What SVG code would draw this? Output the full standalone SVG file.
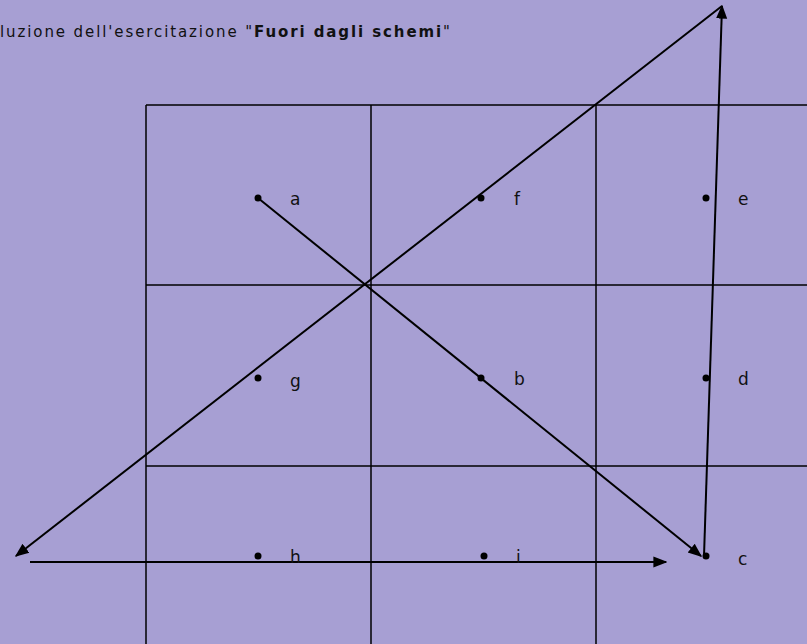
<svg xmlns="http://www.w3.org/2000/svg" width="807" height="644" viewBox="0 0 807 644">
<style>
.grid{stroke:#000;stroke-width:1.5;fill:none}
.arr{stroke:#000;stroke-width:2;fill:none}
.dot{fill:#000}
.lbl{font-family:"DejaVu Sans","Liberation Sans",sans-serif;font-size:17px;fill:#111}
.title{font-family:"DejaVu Sans","Liberation Sans",sans-serif;font-size:15px;fill:#111}
</style>
<defs>
<marker id="ahb" viewBox="0 0 10 10" refX="9" refY="5" markerWidth="14" markerHeight="14" markerUnits="userSpaceOnUse" orient="auto">
<path d="M0,1 L10,5 L0,9 z" fill="#000"/>
</marker>
</defs>
<rect width="807" height="644" fill="#a79fd3"/>
<text class="title" x="0" y="37" textLength="450" lengthAdjust="spacing">luzione dell'esercitazione "<tspan font-weight="bold">Fuori dagli schemi</tspan>"</text>
<g id="grid">
<line class="grid" x1="146" y1="105" x2="807" y2="105"/>
<line class="grid" x1="146" y1="285" x2="807" y2="285"/>
<line class="grid" x1="146" y1="466" x2="807" y2="466"/>
<line class="grid" x1="146" y1="105" x2="146" y2="644"/>
<line class="grid" x1="371" y1="105" x2="371" y2="644"/>
<line class="grid" x1="596" y1="105" x2="596" y2="644"/>
</g>
<g id="connectors">
<line class="arr" x1="258" y1="198" x2="701" y2="556" marker-end="url(#ahb)"/>
<line class="arr" x1="722" y1="6" x2="16" y2="556" marker-end="url(#ahb)"/>
<line class="arr" x1="704" y1="556" x2="722" y2="6" marker-end="url(#ahb)"/>
<line class="arr" x1="30" y1="562" x2="666" y2="562" marker-end="url(#ahb)"/>
</g>
<g id="node-a"><circle class="dot" cx="258" cy="198" r="3.5"/><text class="lbl" x="290" y="205">a</text></g>
<g id="node-f"><circle class="dot" cx="481" cy="198" r="3.5"/><text class="lbl" x="514" y="205">f</text></g>
<g id="node-e"><circle class="dot" cx="706" cy="198" r="3.5"/><text class="lbl" x="738" y="205">e</text></g>
<g id="node-g"><circle class="dot" cx="258" cy="378" r="3.5"/><text class="lbl" x="290" y="387">g</text></g>
<g id="node-b"><circle class="dot" cx="481" cy="378" r="3.5"/><text class="lbl" x="514" y="385">b</text></g>
<g id="node-d"><circle class="dot" cx="706" cy="378" r="3.5"/><text class="lbl" x="738" y="385">d</text></g>
<g id="node-h"><circle class="dot" cx="258" cy="556" r="3.5"/><text class="lbl" x="290" y="563">h</text></g>
<g id="node-i"><circle class="dot" cx="484" cy="556" r="3.5"/><text class="lbl" x="516" y="563">i</text></g>
<g id="node-c"><circle class="dot" cx="706" cy="556" r="3.5"/><text class="lbl" x="738" y="565">c</text></g>
</svg>
